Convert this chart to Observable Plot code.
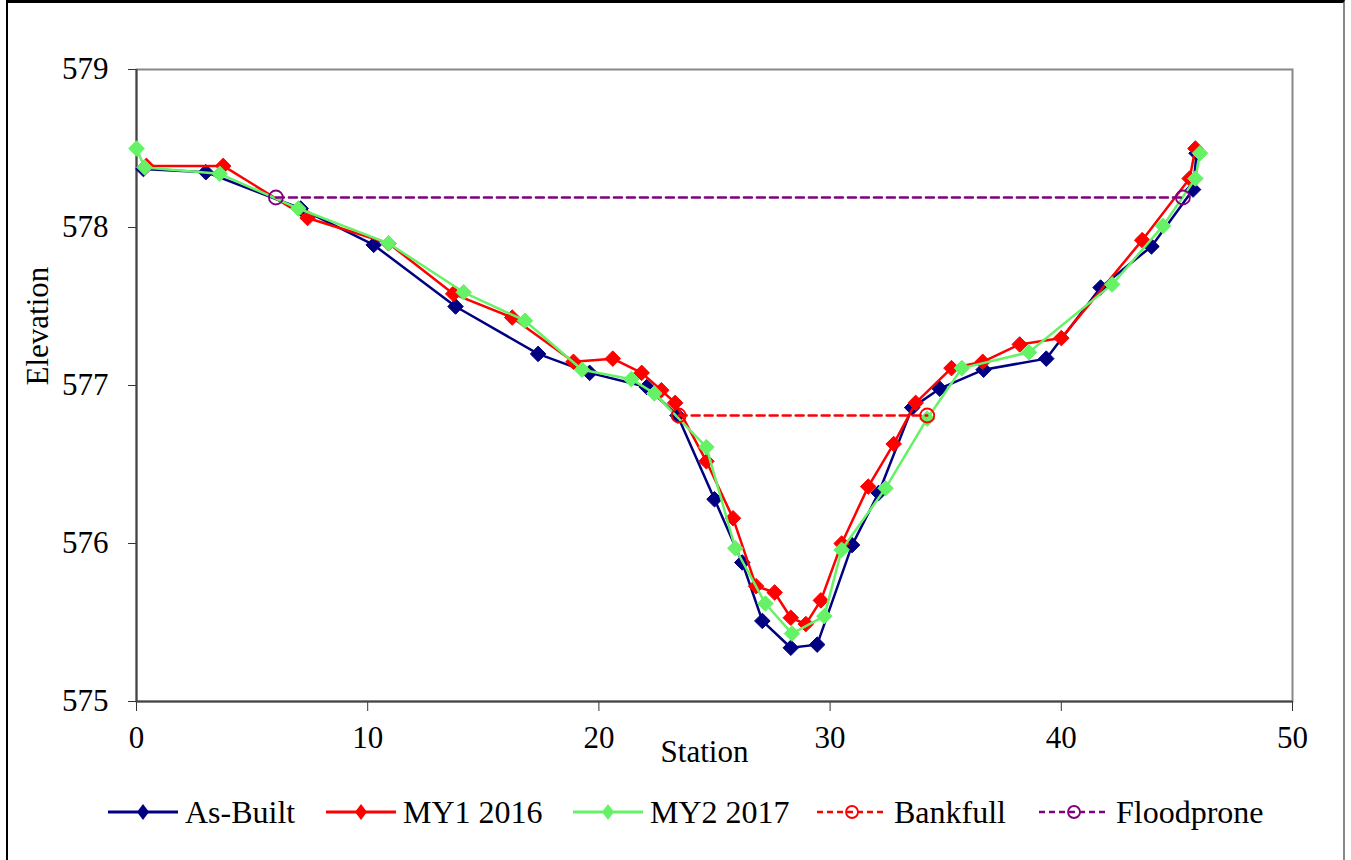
<!DOCTYPE html>
<html>
<head>
<meta charset="utf-8">
<script src="https://cdn.jsdelivr.net/npm/d3@7"></script>
<script src="https://cdn.jsdelivr.net/npm/@observablehq/plot@0.6"></script>
<style>
  html, body { margin: 0; padding: 0; background: #fff; }
  #page { position: relative; width: 1351px; height: 860px; overflow: hidden; font-family: "Liberation Serif", "Times New Roman", Tinos, "DejaVu Serif", serif; }
  #frame { position: absolute; left: 6px; top: 0; width: 1339px; height: 870px; border-top: 3px solid #000; border-left: 2px solid #000; border-right: 2px solid #888; box-sizing: border-box; pointer-events: none; }
  #chart { position: absolute; left: 0; top: 0; }
  #chart svg, #chart svg text { font-family: "Liberation Serif", "Times New Roman", Tinos, "DejaVu Serif", serif !important; }
  .leg { position: absolute; top: 792px; height: 40px; display: flex; align-items: center; font-size: 32px; color: #000; white-space: nowrap; font-family: "Liberation Serif", "Times New Roman", Tinos, "DejaVu Serif", serif; }
  .leg svg { margin-right: 5px; }
</style>
</head>
<body>
<div id="page">
  <div id="chart"></div>
  <div id="legend"></div>
  <div id="frame"></div>
</div>
<script>
// ---- data ----
const asBuiltStation = [0.3, 3.0, 7.1, 10.26, 13.8, 17.37, 19.6, 22.07, 23.4, 25.0, 26.2, 27.07, 28.3, 29.44, 30.95, 32.1, 33.55, 34.74, 36.64, 39.35, 41.7, 43.9, 45.7, 45.85];
const asBuiltElev = [578.37, 578.35, 578.12, 577.89, 577.50, 577.20, 577.08, 576.99, 576.81, 576.28, 575.88, 575.51, 575.34, 575.36, 575.99, 576.32, 576.86, 576.98, 577.10, 577.17, 577.62, 577.88, 578.24, 578.47];

const my1Station = [0.43, 3.75, 7.4, 10.9, 13.7, 16.25, 18.9, 20.6, 21.85, 22.7, 23.3, 24.65, 25.8, 26.8, 27.6, 28.3, 28.95, 29.6, 30.5, 31.65, 32.75, 33.7, 35.25, 36.6, 38.2, 40.0, 43.5, 45.55, 45.8];
const my1Elev = [578.39, 578.39, 578.06, 577.90, 577.58, 577.43, 577.15, 577.17, 577.08, 576.97, 576.89, 576.52, 576.16, 575.73, 575.69, 575.53, 575.49, 575.64, 576.00, 576.36, 576.63, 576.89, 577.11, 577.15, 577.26, 577.30, 577.92, 578.31, 578.50];

const my2Station = [0, 0.35, 3.6, 7.0, 10.9, 14.15, 16.8, 19.27, 21.4, 22.4, 24.65, 25.9, 27.2, 28.35, 29.75, 30.5, 32.4, 34.2, 35.7, 38.6, 42.2, 44.4, 45.8, 46.0];
const my2Elev = [578.50, 578.38, 578.34, 578.12, 577.90, 577.59, 577.41, 577.10, 577.04, 576.95, 576.61, 575.97, 575.62, 575.43, 575.54, 575.96, 576.35, 576.79, 577.11, 577.21, 577.64, 578.01, 578.31, 578.47];

const bankfullStation = [23.45, 34.2];
const bankfullElev = [576.81, 576.81];

const floodproneStation = [6.03, 45.26];
const floodproneElev = [578.19, 578.19];

const xTicks = [0, 10, 20, 30, 40, 50];
const yTicks = [575, 576, 577, 578, 579];

const seriesNames = ["As-Built", "MY1 2016", "MY2 2017", "Bankfull", "Floodprone"];
const seriesColors = ["#000080", "#ff0000", "#66f266", "#ff0000", "#800080"];

// ---- build tables ----
const zip = (xs, ys) => xs.map((x, i) => ({x, y: ys[i]}));
const asBuilt = zip(asBuiltStation, asBuiltElev);
const my1 = zip(my1Station, my1Elev);
const my2 = zip(my2Station, my2Elev);
const bankfull = zip(bankfullStation, bankfullElev);
const floodprone = zip(floodproneStation, floodproneElev);

const solid = (data, color) => [
  Plot.line(data, {x: "x", y: "y", stroke: color, strokeWidth: 2.5}),
  Plot.dot(data, {x: "x", y: "y", symbol: "diamond2", r: 7, fill: color, stroke: color, strokeWidth: 1})
];
const dashed = (data, color) => [
  Plot.line(data, {x: "x", y: "y", stroke: color, strokeWidth: 2.5, strokeDasharray: "8,5"}),
  Plot.dot(data, {x: "x", y: "y", r: 7, fill: "none", stroke: color, strokeWidth: 1.8})
];

const serif = "'Liberation Serif', 'Times New Roman', Tinos, 'DejaVu Serif', serif";

const chart = Plot.plot({
  width: 1351,
  height: 775,
  marginLeft: 136,
  marginRight: 59,
  marginTop: 69,
  marginBottom: 74,
  style: {fontFamily: serif, fontSize: "31px", color: "#000", background: "#fff"},
  x: {domain: [0, 50], ticks: xTicks, label: null},
  y: {domain: [575, 579], ticks: yTicks, label: null},
  marks: [
    Plot.frame({stroke: "#888", strokeWidth: 2}),
    Plot.axisX({ticks: xTicks, tickSize: 10, tickPadding: 14, label: null, tickFormat: d => String(d), stroke: "#333", fontSize: 31}),
    Plot.axisY({ticks: yTicks, tickSize: 8, tickPadding: 20, label: null, tickFormat: d => String(d), stroke: "#333", fontSize: 31}),
    Plot.ruleX([0], {stroke: "#444", strokeWidth: 2}),
    Plot.ruleY([575], {stroke: "#444", strokeWidth: 2}),
    ...solid(asBuilt, seriesColors[0]),
    ...solid(my1, seriesColors[1]),
    ...solid(my2, seriesColors[2]),
    ...dashed(bankfull, seriesColors[3]),
    ...dashed(floodprone, seriesColors[4]),
    Plot.text(["Station"], {frameAnchor: "bottom", text: d => d, dx: -10, dy: 60, fill: "#000", fontSize: 31}),
    Plot.text(["Elevation"], {frameAnchor: "left", text: d => d, rotate: -90, dx: -98, fill: "#000", fontSize: 31})
  ]
});
document.getElementById("chart").appendChild(chart);

// ---- legend ----
const legendLeft = [108, 326, 573, 817, 1039];
const legend = document.getElementById("legend");
seriesNames.forEach((name, i) => {
  const div = document.createElement("div");
  div.className = "leg";
  div.style.left = legendLeft[i] + "px";
  const c = seriesColors[i];
  const isDashed = i >= 3;
  const marker = isDashed
    ? `<circle cx="35" cy="20" r="6" fill="none" stroke="${c}" stroke-width="1.8"/>`
    : `<path d="M35,12 L41,20 L35,28 L29,20 Z" fill="${c}"/>`;
  const line = isDashed
    ? `<line x1="0" y1="20" x2="70" y2="20" stroke="${c}" stroke-width="2.5" stroke-dasharray="6,4"/>`
    : `<line x1="0" y1="20" x2="70" y2="20" stroke="${c}" stroke-width="3"/>`;
  div.innerHTML = `<svg width="72" height="40">${line}${marker}</svg><span>${name}</span>`;
  legend.appendChild(div);
});
</script>
</body>
</html>
